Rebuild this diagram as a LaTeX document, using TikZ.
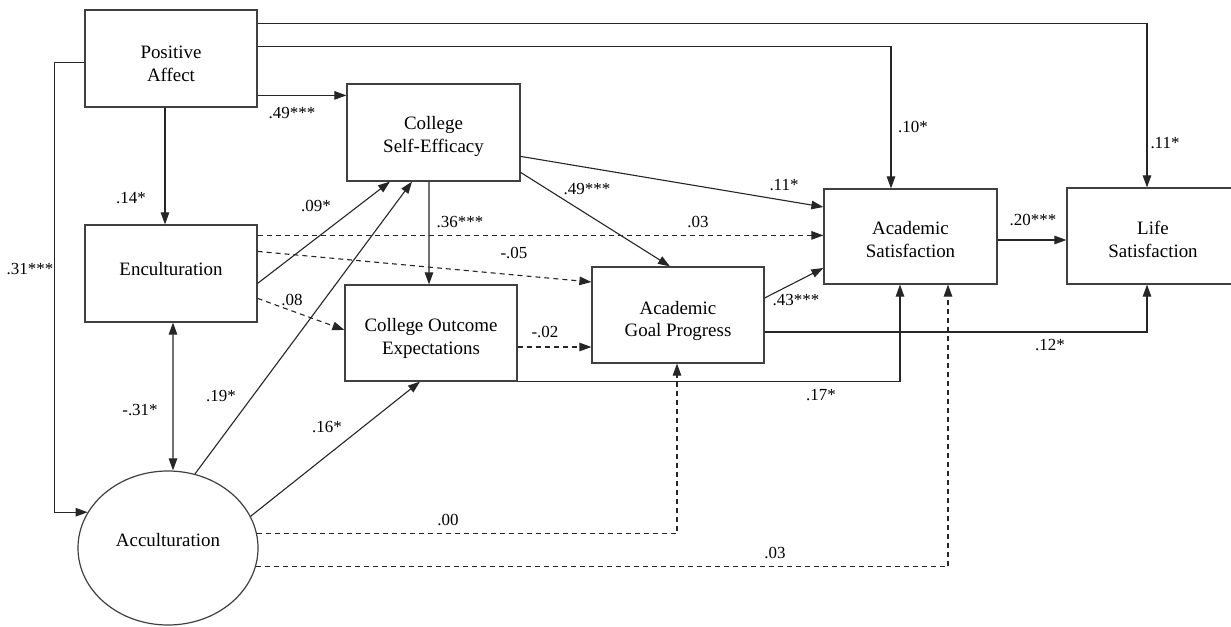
\documentclass[tikz,border=0pt]{standalone}
\usepackage{fontspec}
\setmainfont{Liberation Serif}
\usetikzlibrary{arrows.meta,shapes.geometric}
\begin{document}
\begin{tikzpicture}[x=1bp,y=-1bp,
 box/.style={draw=black!75,line width=1.2bp,minimum width=172bp,minimum height=96bp,inner sep=0pt},
 oval/.style={ellipse,draw=black!75,line width=1.2bp,minimum width=180bp,minimum height=154bp,inner sep=0pt},
 txt/.style={inner sep=0pt,align=center,font=\fontsize{19}{23}\selectfont},
 tip/.tip={Triangle[length=12bp,width=8.5bp]},
 arr/.style={draw=black!85,line width=1.1bp,-tip},
 darr/.style={arr,dash pattern=on 5bp off 4bp},
 lab/.style={inner sep=0pt,font=\fontsize{17}{20}\selectfont}]
\fill[white] (0,0) rectangle (1231,627);
\useasboundingbox (0,0) rectangle (1231,627);

% nodes
\node[box,minimum height=97bp,label={[txt,yshift=-5bp]center:{Positive\\Affect}}] (pa) at (171,58.5) {};
\node[box,minimum height=97bp,minimum width=173bp,label={[txt,yshift=-4bp]center:{College\\Self-Efficacy}}] (cse) at (433.5,132.5) {};
\node[box,minimum height=97bp,label={[txt,yshift=4bp]center:{Enculturation}}] (enc) at (171,273.5) {};
\node[box,label={[txt,yshift=-5bp]center:{College Outcome\\Expectations}}] (coe) at (431,333) {};
\node[box,label={[txt,yshift=-6bp]center:{Academic\\Goal Progress}}] (agp) at (678,315) {};
\node[box,minimum width=173bp,minimum height=95bp,label={[txt,yshift=-3bp]center:{Academic\\Satisfaction}}] (as) at (910.5,236.5) {};
\node[box,label={[txt,yshift=-3bp]center:{Life\\Satisfaction}}] (ls) at (1153,236) {};
\node[oval,label={[txt,yshift=8bp]center:{Acculturation}}] (acc) at (168,548) {};

% solid connectors
\draw[arr] ([yshift=-14bp]pa.north east) -| ([xshift=-6bp]ls.north);
\draw[arr] ([yshift=-37bp]pa.north east) -| ([xshift=-19.5bp]as.north);
\draw[arr] ([yshift=-53bp]pa.north west) -- ++(-30,0) |- (acc.156);
\draw[arr] ([yshift=-86bp]pa.north east) coordinate (p1) -- (p1 -| cse.west);
\draw[arr] ([xshift=-6bp]pa.south) -- ([xshift=-6bp]enc.north);
\draw[arr,tip-tip] ([xshift=2bp]enc.south) -- ([xshift=5bp]acc.north);
\draw[arr] ([yshift=-59bp]enc.north east) -- ([xshift=-43.5bp]cse.south);
\draw[arr] (acc.70) -- ([xshift=-21.5bp]cse.south);
\draw[arr] (acc.21) -- ([xshift=-11bp]coe.south);
\draw[arr] ([xshift=-4.5bp]cse.south) -- ([xshift=-2bp]coe.north);
\draw[arr] ([yshift=-73bp]cse.north east) -- ([yshift=29.5bp]as.west);
\draw[arr] ([yshift=-89bp]cse.north east) -- ([xshift=-8bp]agp.north);
\draw[arr] (coe.south east) -| ([xshift=-10.5bp]as.south);
\draw[arr] ([yshift=17bp]agp.east) -- ([yshift=-31.5bp]as.west);
\draw[arr] ([yshift=-17bp]agp.east) -| ([xshift=-6bp]ls.south);
\draw[arr] ([yshift=-3.5bp]as.east) coordinate (p2) -- (p2 -| ls.west);

% dashed connectors
\draw[darr] ([yshift=-11bp]enc.north east) coordinate (p3) -- (p3 -| as.west);
\draw[darr] ([yshift=-27bp]enc.north east) -- ([yshift=33bp]agp.west);
\draw[darr] ([yshift=-74bp]enc.north east) -- ([yshift=3bp]coe.west);
\draw[darr] ([yshift=-14bp]coe.east) coordinate (p4) -- (p4 -| agp.west);
\draw[darr] (acc.9) -| ([xshift=-1bp]agp.south);
\draw[darr] (acc.-12) -| ([xshift=37.5bp]as.south);

% labels
\node[lab] (l1) at (292,113) {.49***};
\node[lab] (l2) at (131,198) {.14*};
\node[lab] (l3) at (316,206) {.09*};
\node[lab] (l4) at (30,269) {.31***};
\node[lab] (l5) at (140,410) {-.31*};
\node[lab] (l6) at (221,396) {.19*};
\node[lab] (l7) at (327,427) {.16*};
\node[lab] (l8) at (292,300) {.08};
\node[lab] (l9) at (460,222) {.36***};
\node[lab] (l10) at (698,222) {.03};
\node[lab] (l11) at (514,253) {-.05};
\node[lab] (l12) at (545,332) {-.02};
\node[lab] (l13) at (796,300) {.43***};
\node[lab] (l14) at (587,189) {.49***};
\node[lab] (l15) at (784,185) {.11*};
\node[lab] (l16) at (913,127) {.10*};
\node[lab] (l17) at (1165,143) {.11*};
\node[lab] (l18) at (1033,220) {.20***};
\node[lab] (l19) at (1050,345) {.12*};
\node[lab] (l20) at (821,395) {.17*};
\node[lab] (l21) at (448,520) {.00};
\node[lab] (l22) at (775,553) {.03};
\end{tikzpicture}
\end{document}
